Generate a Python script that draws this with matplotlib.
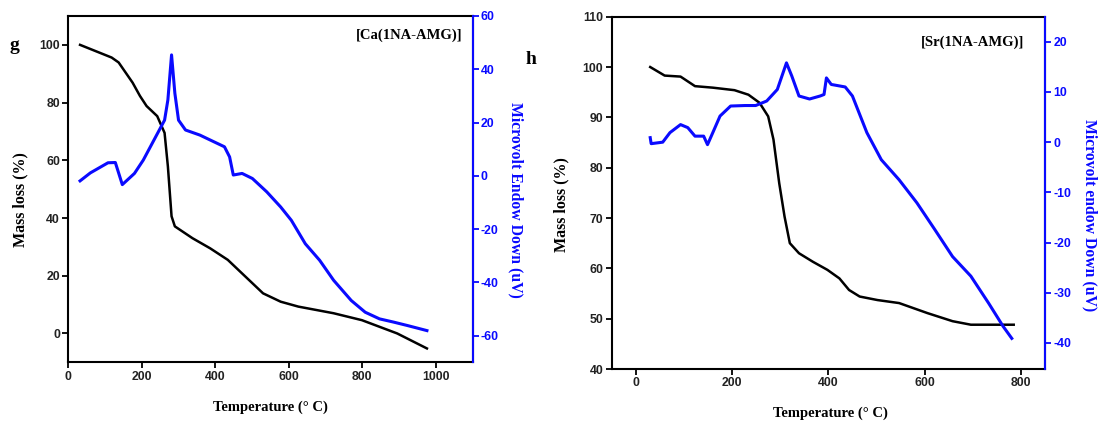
import matplotlib
matplotlib.use("Agg")
import matplotlib.pyplot as plt

plt.rcParams["axes.unicode_minus"] = False

# ---- Panel g: Ca(1NA-AMG) ----
ca_tg_temp = [32, 118, 137, 175, 195, 213, 242, 262, 271, 281, 290, 338, 386, 434, 482, 530, 578, 626, 722, 799, 895, 976]
ca_tg_mass = [100, 95.6, 93.9, 86.9, 82.3, 78.8, 75.3, 69.5, 57.9, 40.6, 37.1, 33, 29.5, 25.5, 19.7, 13.9, 11.0, 9.3, 7.0, 4.6, 0.0, -5.2]

ca_dta_temp = [32, 60, 108, 128, 147, 180, 204, 233, 262, 271, 281, 290, 300, 319, 358, 396, 425, 439, 449, 473, 501, 540, 578, 607, 645, 684, 722, 770, 808, 847, 885, 923, 976]
ca_dta_uv = [-1.9, 1.1, 4.9, 5.0, -3.3, 0.9, 5.9, 13.4, 20.9, 28.5, 45.4, 31.0, 20.9, 17.2, 15.3, 12.8, 10.9, 7.1, 0.3, 0.9, -1.0, -6.0, -11.7, -16.7, -25.5, -31.7, -39.2, -46.8, -51.2, -53.7, -54.9, -56.2, -58.1]

# ---- Panel h: Sr(1NA-AMG) ----
sr_tg_temp = [30, 60, 93, 123, 160, 205, 234, 257, 275, 286, 298, 309, 320, 339, 368, 398, 423, 443, 465, 502, 547, 606, 658, 696, 763, 785]
sr_tg_mass = [100, 98.3, 98.1, 96.2, 95.9, 95.4, 94.5, 92.9, 90.2, 85.6, 76.9, 70.3, 65.0, 63.0, 61.3, 59.7, 58.0, 55.7, 54.4, 53.7, 53.1, 51.1, 49.5, 48.8, 48.8, 48.8]

sr_dta_temp = [30, 32, 56, 71, 93, 108, 123, 141, 149, 160, 175, 197, 227, 249, 272, 294, 313, 324, 339, 361, 383, 391, 396, 406, 435, 450, 480, 510, 547, 584, 621, 658, 696, 733, 763, 781]
sr_dta_uv = [0.9, -0.3, 0.0, 1.9, 3.5, 2.9, 1.2, 1.2, -0.5, 1.9, 5.2, 7.2, 7.3, 7.3, 8.2, 10.5, 15.8, 13.2, 9.2, 8.6, 9.2, 9.5, 12.8, 11.5, 11.0, 9.2, 1.9, -3.5, -7.5, -12.1, -17.4, -22.8, -26.7, -32.1, -36.7, -39.1]

ca_xticks = [0, 200, 400, 600, 800, 1000]
ca_yticks = [0, 20, 40, 60, 80, 100]
ca_y2ticks = [-60, -40, -20, 0, 20, 40, 60]
sr_xticks = [0, 200, 400, 600, 800]
sr_yticks = [40, 50, 60, 70, 80, 90, 100, 110]
sr_y2ticks = [-40, -30, -20, -10, 0, 10, 20]

W, H = 1102, 423
BLUE = "#0a0aff"
serif = "Liberation Serif"

fig = plt.figure(figsize=(W / 100, H / 100), dpi=100)

def px(x0, y0, x1, y1):
    return [x0 / W, 1 - y1 / H, (x1 - x0) / W, (y1 - y0) / H]

def style(ax, ax2, xticks, yticks, y2ticks):
    for s in ax.spines.values():
        s.set_linewidth(1.5)
    ax2.spines["right"].set_color(BLUE)
    ax2.spines["right"].set_linewidth(1.5)
    for s in ["left", "top", "bottom"]:
        ax2.spines[s].set_visible(False)
    ax.set_xticks(xticks)
    ax.set_yticks(yticks)
    ax2.set_yticks(y2ticks)
    ax.tick_params(direction="out", length=4, width=1.3, colors="black", labelsize=8.8, pad=2)
    ax2.tick_params(direction="out", length=4, width=1.3, colors=BLUE, labelsize=8.8, pad=2)
    for lab in ax.get_xticklabels() + ax.get_yticklabels():
        lab.set_fontfamily("Liberation Sans"); lab.set_fontweight("bold")
        lab.set_color("#222222")
    for lab in ax2.get_yticklabels():
        lab.set_fontfamily("Liberation Sans"); lab.set_fontweight("bold")
        lab.set_color(BLUE)

# Left panel
ax1 = fig.add_axes(px(68.3, 16, 472.5, 362.3))
ax1b = ax1.twinx()
ax1.plot(ca_tg_temp, ca_tg_mass, color="black", lw=1.8)
ax1b.plot(ca_dta_temp, ca_dta_uv, color=BLUE, lw=2.2)
ax1.set_xlim(0, 1100)
ax1.set_ylim(-10, 110)
ax1b.set_ylim(-70, 60)
style(ax1, ax1b, ca_xticks, ca_yticks, ca_y2ticks)
ax1.text(0.975, 0.945, "[Ca(1NA-AMG)]", transform=ax1.transAxes, ha="right", va="center",
         family=serif, weight="bold", fontsize=10.5)

# Right panel
ax2 = fig.add_axes(px(611.7, 16.7, 1045, 369))
ax2b = ax2.twinx()
ax2.plot(sr_tg_temp, sr_tg_mass, color="black", lw=1.8)
ax2b.plot(sr_dta_temp, sr_dta_uv, color=BLUE, lw=2.2)
ax2.set_xlim(-50, 850)
ax2.set_ylim(40, 110)
ax2b.set_ylim(-45.2, 25)
style(ax2, ax2b, sr_xticks, sr_yticks, sr_y2ticks)
ax2.text(0.951, 0.928, "[Sr(1NA-AMG)]", transform=ax2.transAxes, ha="right", va="center",
         family=serif, weight="bold", fontsize=10.5)

# Axis labels
def ftext(x, y, s, **kw):
    fig.text(x / W, 1 - y / H, s, ha="center", va="center", family=serif, weight="bold", **kw)

ftext(20, 200, "Mass loss (%)", rotation=90, fontsize=11.5)
ftext(270, 407, "Temperature (\u00b0 C)", fontsize=10.5)
ftext(516, 200, "Microvolt Endow Down (uV)", rotation=270, fontsize=11.3, color=BLUE)
ftext(561, 205, "Mass loss (%)", rotation=90, fontsize=11.5)
ftext(830, 413, "Temperature (\u00b0 C)", fontsize=10.5)
ftext(1090, 215, "Microvolt endow Down (uV)", rotation=270, fontsize=11.3, color=BLUE)

# Panel letters
ftext(14, 45, "g", fontsize=14)
ftext(531, 60, "h", fontsize=14)

fig.savefig("out.png", dpi=100)
